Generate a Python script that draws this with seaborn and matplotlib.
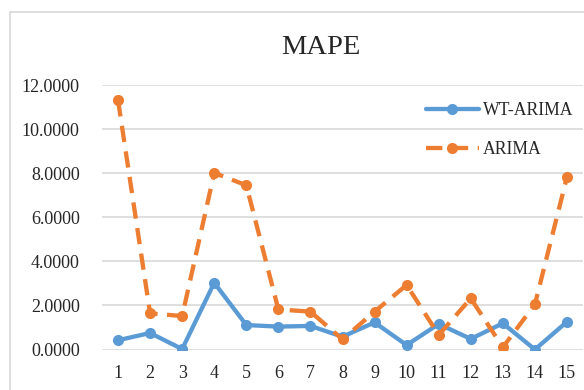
import matplotlib
matplotlib.use("Agg")
import matplotlib.pyplot as plt
import matplotlib.patches as mpatches
import seaborn as sns
import pandas as pd

# Forecast error (MAPE) for each of the 15 test windows
windows = list(range(1, 16))
wt_arima = [0.42, 0.75, 0.02, 3.03, 1.11, 1.04, 1.07, 0.58, 1.23, 0.20, 1.16, 0.48, 1.19, 0.00, 1.26]
arima = [11.32, 1.64, 1.52, 8.02, 7.46, 1.82, 1.72, 0.46, 1.72, 2.93, 0.66, 2.32, 0.10, 2.05, 7.84]
yticks = [0, 2, 4, 6, 8, 10, 12]

sns.set_theme(style="white")
plt.rcParams["font.family"] = ["Liberation Serif", "DejaVu Serif"]

blue = "#5B9BD5"
orange = "#ED7D31"

df = pd.DataFrame({"window": windows, "WT-ARIMA": wt_arima, "ARIMA": arima})

fig = plt.figure(figsize=(5.84, 3.90), dpi=100)
ax = fig.add_axes([102 / 584, 40.5 / 390, 481 / 584, 264.2 / 390])

sns.lineplot(data=df, x="window", y="WT-ARIMA", ax=ax, color=blue, lw=3.1,
             marker="o", markersize=8, markeredgewidth=0, label="WT-ARIMA")
sns.lineplot(data=df, x="window", y="ARIMA", ax=ax, color=orange, lw=3.1,
             marker="o", markersize=8, markeredgewidth=0, label="ARIMA",
             dashes=False)
ax.lines[1].set_dashes([3.8, 2.2])
ax.lines[1].set_dash_capstyle("butt")

ax.set_xlim(0.5, 15.5)
ax.set_ylim(0, 12)
ax.set_xticks(windows)
ax.set_xticklabels([str(w) for w in windows], fontsize=13)
ax.set_yticks(yticks)
ax.set_yticklabels([f"{v:.4f}" for v in yticks], fontsize=13)
ax.tick_params(axis="y", length=0, pad=16)
ax.tick_params(axis="x", length=0, pad=11)
ax.set_xlabel("")
ax.set_ylabel("")
ax.grid(axis="y", color="#D9D9D9", lw=1.2)
ax.set_axisbelow(True)
for s in ax.spines.values():
    s.set_visible(False)

handles, labels = ax.get_legend_handles_labels()
leg = ax.legend(handles, labels, loc="upper left",
                bbox_to_anchor=(426 / 584, 1 - 102 / 390),
                bbox_transform=fig.transFigure, frameon=False, fontsize=12.7,
                handlelength=3.0, handletextpad=0.25, labelspacing=1.25,
                borderpad=0, borderaxespad=0)

fig.text(321 / 584, 1 - 48 / 390, "MAPE", ha="center", va="center", fontsize=20.5)

# chart-area frame
fig.patches.append(mpatches.Rectangle((10 / 584, -0.2), 2, 1.2 - 12 / 390,
                                      transform=fig.transFigure, fill=False,
                                      edgecolor="#D9D9D9", lw=1.2))

fig.savefig("out.png", dpi=100)
